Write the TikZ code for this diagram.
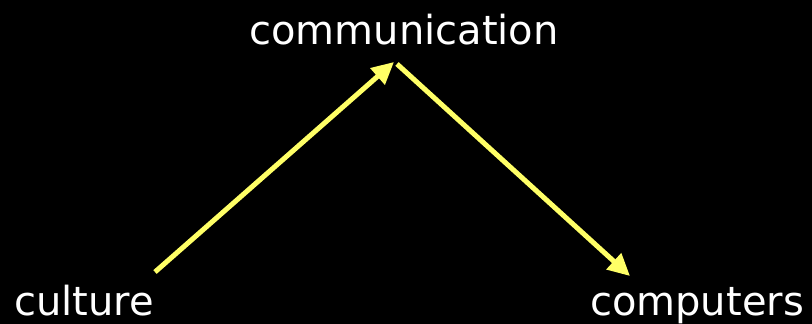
\documentclass[tikz,border=0pt]{standalone}
\usepackage{fontspec}
\setmainfont{DejaVu Sans}
\usetikzlibrary{arrows.meta}
\definecolor{arrowyellow}{HTML}{FFFF66}

\begin{document}
\begin{tikzpicture}[
  x=1pt, y=-1pt,
  word/.style={text=white, font=\fontsize{40}{48}\selectfont, anchor=base, inner sep=0pt},
  link/.style={-{Triangle[length=22pt,width=21pt]}, line width=5pt, arrowyellow},
]
% black background
\fill[black] (0,0) rectangle (812,324);
\useasboundingbox (0,0) rectangle (812,324);

% words
\node[word] (communication) at (404,45)  {communication};
\node[word] (culture)       at (84,315)  {culture};
\node[word] (computers)     at (697,315) {computers};

% arrow ends
\coordinate (start) at (155,272);
\coordinate (apex)  at (394,62);
\coordinate (top)   at (397,64);
\coordinate (tip)   at (630,276);

% arrows
\draw[link] (start) -- (apex);
\draw[link] (top) -- (tip);
\end{tikzpicture}
\end{document}
